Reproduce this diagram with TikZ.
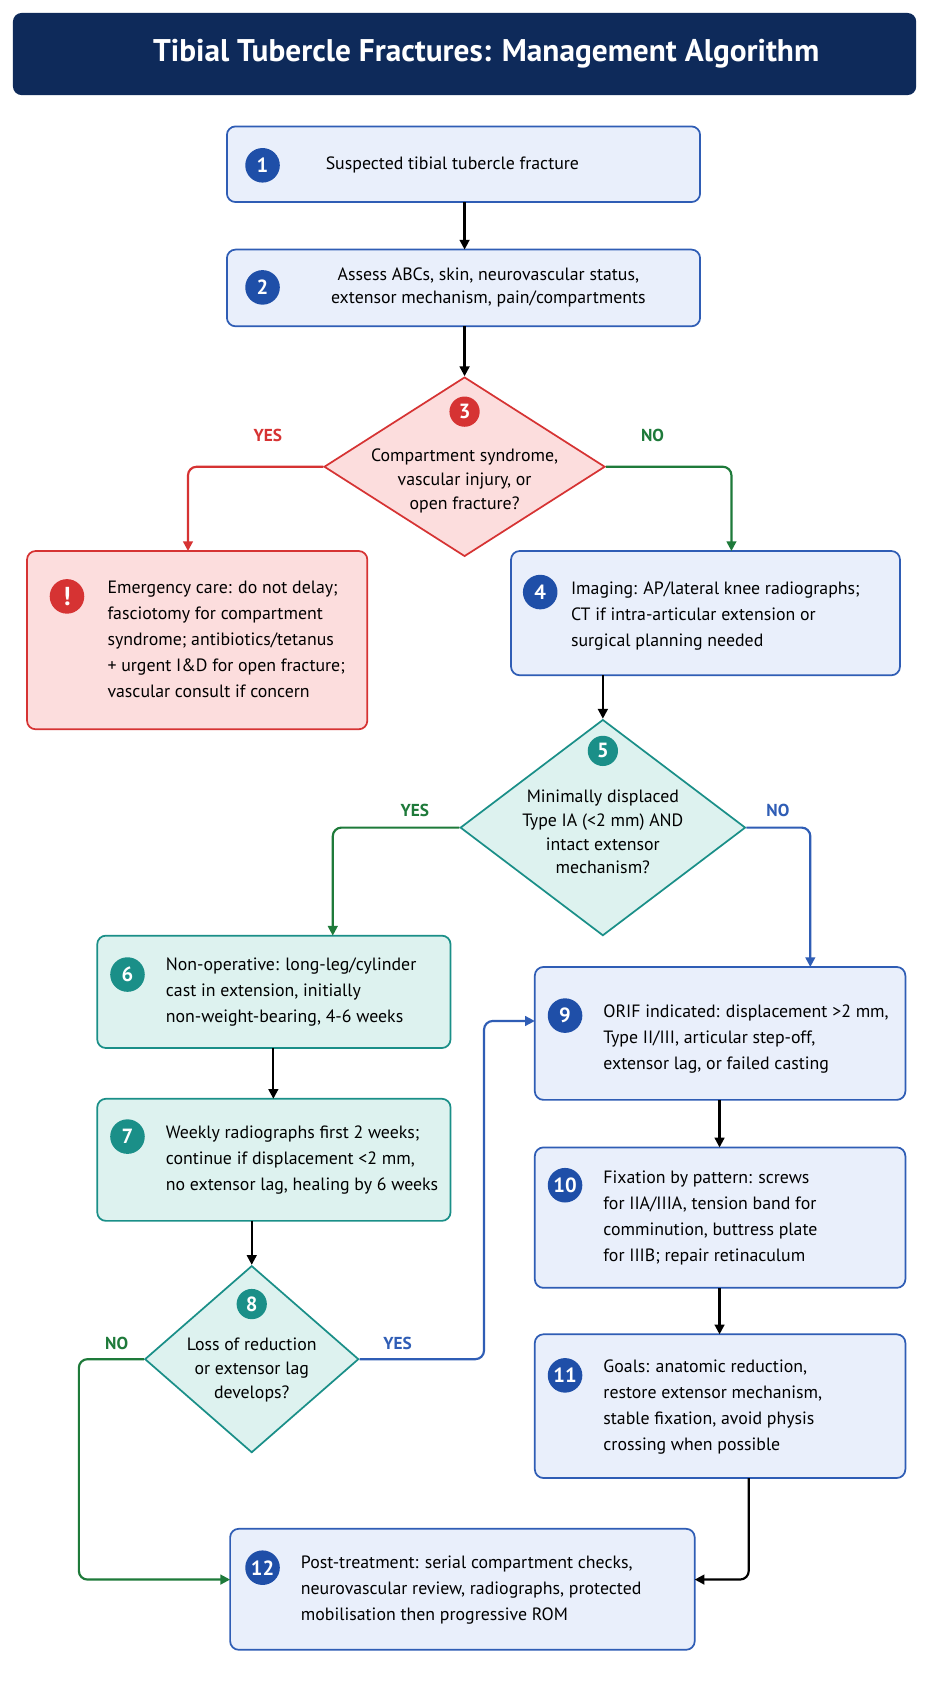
\documentclass[tikz,border=0pt]{standalone}
\usepackage{fontspec}
\setmainfont{PT Sans}
\usetikzlibrary{shapes.geometric,arrows.meta}
\definecolor{navy}{HTML}{0E2A5A}
\definecolor{bfill}{HTML}{E9EFFB}
\definecolor{bline}{HTML}{2F5DB5}
\definecolor{bcirc}{HTML}{1F4FA8}
\definecolor{rfill}{HTML}{FCDDDD}
\definecolor{rline}{HTML}{D63333}
\definecolor{tfill}{HTML}{DDF2EF}
\definecolor{tline}{HTML}{1A8F88}
\definecolor{gline}{HTML}{1E7A3A}
\begin{document}
\begin{tikzpicture}[x=1pt,y=-1pt,
 txt/.style={font=\fontsize{16.5}{24}\selectfont,align=left,anchor=west},
 ctxt/.style={font=\fontsize{16.5}{22}\selectfont,align=center},
 box/.style={draw=#1,line width=1.6pt,rounded corners=8pt},
 num/.style={circle,fill=#1,text=white,minimum size=32pt,inner sep=0pt,font=\bfseries\fontsize{19}{19}\selectfont},
 arr/.style={line width=2pt,draw=#1,-{Triangle[length=9pt,width=9pt]},rounded corners=8pt},
 lab/.style={font=\bfseries\fontsize{16}{16}\selectfont,text=#1}]
\useasboundingbox (0,0) rectangle (860,1567);
\fill[white] (0,0) rectangle (860,1567);
\fill[navy,rounded corners=8pt] (12,12) rectangle (848,88);
\node[text=white,font=\bfseries\fontsize{29}{29}\selectfont] (title) at (450,50) {Tibial Tubercle Fractures: Management Algorithm};
% boxes
\draw[box=bline,fill=bfill] (210,117) rectangle (648,187); \coordinate (b1t) at (430,117); \coordinate (b1b) at (430,187);
\node[num=bcirc] (n1) at (243,153) {1};
\node[txt] (t1) at (298,153) {Suspected tibial tubercle fracture};
\draw[box=bline,fill=bfill] (210,231) rectangle (648,302); \coordinate (b2t) at (430,231); \coordinate (b2b) at (430,302);
\node[num=bcirc] (n2) at (243,266) {2};
\node[ctxt] (t2) at (452,266) {Assess ABCs, skin, neurovascular status,\\extensor mechanism, pain/compartments};
% diamond 3
\node[diamond,draw=rline,fill=rfill,line width=1.6pt,minimum width=260pt,minimum height=166pt,aspect=1.56,inner sep=0pt] (d3) at (430,432) {};
\node[num=rline,minimum size=28pt] (n3) at (430,381) {3};
\node[ctxt] (t3) at (430,445) {Compartment syndrome,\\vascular injury, or\\open fracture?};
\node[lab=rline] (y3) at (248,403) {YES};
\node[lab=gline] (no3) at (604,403) {NO};
% emergency
\draw[box=rline,fill=rfill] (25,510) rectangle (340,675); \coordinate (ebt) at (174,510);
\node[num=rline,font=\bfseries\fontsize{24}{24}\selectfont] (ex) at (62,552) {!};
\node[txt] (te) at (96,592) {Emergency care: do not delay;\\fasciotomy for compartment\\syndrome; antibiotics/tetanus\\+ urgent I\&D for open fracture;\\vascular consult if concern};
% box 4
\draw[box=bline,fill=bfill] (473,510) rectangle (833,625); \coordinate (b4t) at (677,510); \coordinate (b4b) at (558,625);
\node[num=bcirc] (n4) at (500,548) {4};
\node[txt] (t4) at (525,570) {Imaging: AP/lateral knee radiographs;\\CT if intra-articular extension or\\surgical planning needed};
% diamond 5
\node[diamond,draw=tline,fill=tfill,line width=1.6pt,minimum width=264pt,minimum height=200pt,aspect=1.32,inner sep=0pt] (d5) at (558,766) {};
\node[num=tline,minimum size=28pt] (n5) at (558,695) {5};
\node[ctxt] (t5) at (558,770) {Minimally displaced\\Type IA (<2 mm) AND\\intact extensor\\mechanism?};
\node[lab=gline] (y5) at (384,750) {YES};
\node[lab=bline] (no5) at (720,750) {NO};
% box 6
\draw[box=tline,fill=tfill] (90,866) rectangle (417,970); \coordinate (b6t) at (308,866); \coordinate (b6b) at (253,970);
\node[num=tline] (n6) at (118,902) {6};
\node[txt] (t6) at (150,918) {Non-operative: long-leg/cylinder\\cast in extension, initially\\non-weight-bearing, 4-6 weeks};
% box 7
\draw[box=tline,fill=tfill] (90,1017) rectangle (417,1130); \coordinate (b7t) at (253,1017); \coordinate (b7b) at (233,1130);
\node[num=tline] (n7) at (118,1052) {7};
\node[txt] (t7) at (150,1074) {Weekly radiographs first 2 weeks;\\continue if displacement <2 mm,\\no extensor lag, healing by 6 weeks};
% diamond 8
\node[diamond,draw=tline,fill=tfill,line width=1.6pt,minimum width=198pt,minimum height=173pt,aspect=1.14,inner sep=0pt] (d8) at (233,1258) {};
\node[num=tline,minimum size=28pt] (n8) at (233,1207) {8};
\node[ctxt] (t8) at (233,1268) {Loss of reduction\\or extensor lag\\develops?};
\node[lab=gline] (no8) at (108,1243) {NO};
\node[lab=bline] (y8) at (368,1243) {YES};
% box 9
\draw[box=bline,fill=bfill] (495,895) rectangle (838,1018); \coordinate (b9l) at (495,945); \coordinate (b9t) at (750,895); \coordinate (b9b) at (666,1018);
\node[num=bcirc] (n9) at (523,940) {9};
\node[txt] (t9) at (555,962) {ORIF indicated: displacement >2 mm,\\Type II/III, articular step-off,\\extensor lag, or failed casting};
% box 10
\draw[box=bline,fill=bfill] (495,1062) rectangle (838,1192); \coordinate (b10t) at (666,1062); \coordinate (b10b) at (666,1192);
\node[num=bcirc] (n10) at (523,1097) {10};
\node[txt] (t10) at (555,1127) {Fixation by pattern: screws\\for IIA/IIIA, tension band for\\comminution, buttress plate\\for IIIB; repair retinaculum};
% box 11
\draw[box=bline,fill=bfill] (495,1235) rectangle (838,1368); \coordinate (b11t) at (666,1235); \coordinate (b11b) at (693,1368);
\node[num=bcirc] (n11) at (523,1273) {11};
\node[txt] (t11) at (555,1302) {Goals: anatomic reduction,\\restore extensor mechanism,\\stable fixation, avoid physis\\crossing when possible};
% box 12
\draw[box=bline,fill=bfill] (213,1415) rectangle (643,1527); \coordinate (b12l) at (213,1462); \coordinate (b12r) at (643,1462);
\node[num=bcirc] (n12) at (243,1451) {12};
\node[txt] (t12) at (275,1472) {Post-treatment: serial compartment checks,\\neurovascular review, radiographs, protected\\mobilisation then progressive ROM};
% arrows
\draw[arr=black] (b1b) -- (b2t);
\draw[arr=black] (b2b) -- (d3.north);
\draw[arr=rline] (d3.west) -- (174,432) -- (ebt);
\draw[arr=gline] (d3.east) -- (677,432) -- (b4t);
\draw[arr=black] (b4b) -- (d5.north);
\draw[arr=gline] (d5.west) -- (308,766) -- (b6t);
\draw[arr=bline] (d5.east) -- (750,766) -- (b9t);
\draw[arr=black] (b6b) -- (b7t);
\draw[arr=black] (b7b) -- (d8.north);
\draw[arr=bline] (d8.east) -- (448,1258) -- (448,945) -- (b9l);
\draw[arr=gline] (d8.west) -- (73,1258) -- (73,1462) -- (b12l);
\draw[arr=black] (b9b) -- (b10t);
\draw[arr=black] (b10b) -- (b11t);
\draw[arr=black] (b11b) -- (693,1462) -- (b12r);
\end{tikzpicture}
\end{document}
